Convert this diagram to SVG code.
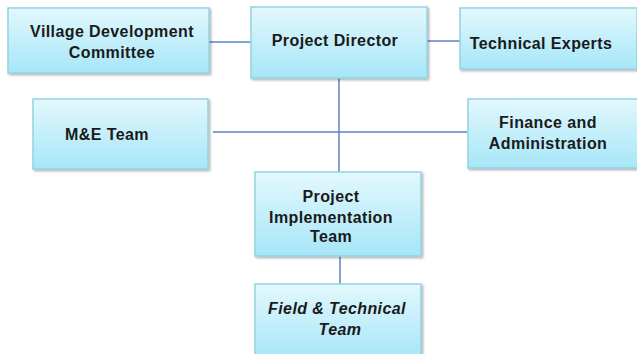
<svg xmlns="http://www.w3.org/2000/svg" width="637" height="354" viewBox="0 0 637 354">
<defs>
<linearGradient id="g" x1="0" y1="0" x2="0" y2="1">
<stop offset="0" stop-color="#e3f8fd"/>
<stop offset="1" stop-color="#a6e6f8"/>
</linearGradient>
<filter id="sh" x="-10%" y="-10%" width="130%" height="130%">
<feDropShadow dx="1.5" dy="1.5" stdDeviation="1.2" flood-color="#000" flood-opacity="0.3"/>
</filter>
</defs>
<style>
.box{fill:url(#g);stroke:#93d3e2;stroke-width:1.5;filter:url(#sh)}
.t{font-family:"Liberation Sans",Arial,sans-serif;font-weight:bold;font-size:16px;letter-spacing:0.4px;fill:#1a1a1a;text-anchor:middle}
.i{font-style:italic}
.c{stroke:#5b84c4;stroke-width:1.5;fill:none}
</style>
<rect width="637" height="354" fill="#ffffff"/>
<g id="connectors">
<line class="c" x1="209" y1="42" x2="251" y2="42"/>
<line class="c" x1="427" y1="41" x2="460" y2="41"/>
<line class="c" x1="339" y1="78" x2="339" y2="172"/>
<line class="c" x1="213" y1="132" x2="467" y2="132"/>
<line class="c" x1="340" y1="256" x2="340" y2="284"/>
</g>
<g id="vdc">
<rect class="box" x="8" y="8" width="201" height="65"/>
<text class="t" x="112" y="37">Village Development</text>
<text class="t" x="112" y="58">Committee</text>
</g>
<g id="pd">
<rect class="box" x="251" y="7" width="176" height="71"/>
<text class="t" x="335" y="46">Project Director</text>
</g>
<g id="te">
<rect class="box" x="460" y="8" width="177" height="61"/>
<text class="t" x="541" y="49">Technical Experts</text>
</g>
<g id="me">
<rect class="box" x="33" y="99" width="175" height="70"/>
<text class="t" x="107" y="140">M&amp;E Team</text>
</g>
<g id="fa">
<rect class="box" x="468" y="99" width="170" height="69"/>
<text class="t" x="548" y="128">Finance and</text>
<text class="t" x="548" y="149">Administration</text>
</g>
<g id="pit">
<rect class="box" x="255" y="172" width="166" height="84"/>
<text class="t" x="331" y="202">Project</text>
<text class="t" x="331" y="223">Implementation</text>
<text class="t" x="331" y="242">Team</text>
</g>
<g id="ftt">
<rect class="box" x="255" y="284" width="166" height="75"/>
<text class="t i" x="337" y="314">Field &amp; Technical</text>
<text class="t i" x="340" y="335">Team</text>
</g>
</svg>
